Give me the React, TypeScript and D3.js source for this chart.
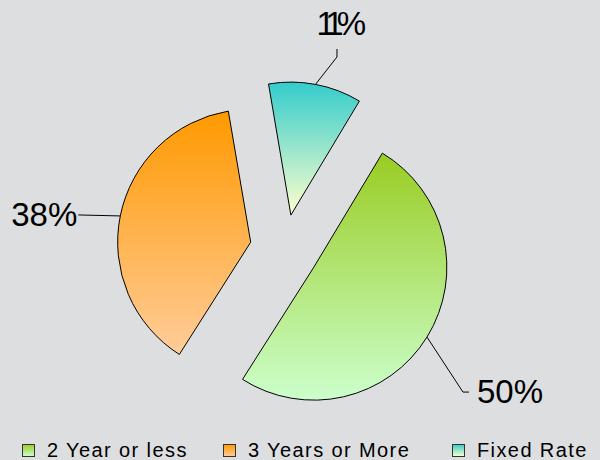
import React from 'react';
import * as d3 from 'd3';

// ---- data ----
const categories = ['2 Year or less', '3 Years or More', 'Fixed Rate'];
const values = [50.4, 38.3, 11.3];
const labelTexts = ['50%', '38%', '11%'];
const gradientTop = ['#99cc22', '#ff9900', '#33cccc'];
const gradientBottom = ['#ccffcc', '#ffcc99', '#ffffcc'];

// ---- layout ----
const W = 600;
const H = 460;
const CX = 284.5;
const CY = 249;
const R = 133;
const EXPLODE = 34.5;
const START_DEG = 31;
const BG = '#dddee0';
const FONT = '"Liberation Sans", Arial, Helvetica, sans-serif';

// leader polylines & label anchors relative to the arc mid point of each slice
const labelLayout = [
  { pts: [[36, 55], [42, 55]], text: [50, 66], anchor: 'start', ls: 0 },
  { pts: [[-42, -1]], text: [-43, 10], anchor: 'end', ls: 0 },
  { pts: [[21.5, -27.4], [21.5, -35.4]], text: [1, -49.4], anchor: 'start', ls: -7 },
];
const legendX = [22, 223, 452];

export default function App() {
  const a0 = (START_DEG * Math.PI) / 180;
  const pie = d3
    .pie<number>()
    .sort(null)
    .startAngle(a0)
    .endAngle(a0 + 2 * Math.PI);
  const arcs = pie(values);
  const arcGen = d3
    .arc<d3.PieArcDatum<number>>()
    .innerRadius(0)
    .outerRadius(R);
  const polar = (a: number, r: number): [number, number] => [
    r * Math.sin(a),
    -r * Math.cos(a),
  ];

  return (
    <svg
      width={W}
      height={H}
      style={{ position: 'absolute', left: 0, top: 0, display: 'block' }}
      xmlns="http://www.w3.org/2000/svg"
    >
      <defs>
        {categories.map((c, i) => (
          <linearGradient key={c} id={`g${i}`} x1="0" y1="0" x2="0" y2="1">
            <stop offset="0" stopColor={gradientTop[i]} />
            <stop offset="1" stopColor={gradientBottom[i]} />
          </linearGradient>
        ))}
      </defs>
      <rect x={0} y={0} width={W} height={H} fill={BG} />
      {arcs.map((a, i) => {
        const mid = (a.startAngle + a.endAngle) / 2;
        const [ox, oy] = polar(mid, EXPLODE);
        const ax = CX + ox;
        const ay = CY + oy;
        const [px0, py0] = polar(mid, R);
        const px = ax + px0;
        const py = ay + py0;
        const lay = labelLayout[i];
        const linePts: [number, number][] = [
          [px, py],
          ...lay.pts.map(([dx, dy]) => [px + dx, py + dy] as [number, number]),
        ];
        return (
          <g key={categories[i]}>
            <path
              d={arcGen(a) || ''}
              transform={`translate(${ax},${ay})`}
              fill={`url(#g${i})`}
              stroke="#000"
              strokeWidth={1}
              strokeLinejoin="round"
            />
            <path
              d={d3.line()(linePts) || ''}
              fill="none"
              stroke="#000"
              strokeWidth={1}
            />
            <text
              x={px + lay.text[0]}
              y={py + lay.text[1]}
              textAnchor={lay.anchor as any}
              fontFamily={FONT}
              fontSize={33}
              letterSpacing={lay.ls}
              fill="#000"
            >
              {labelTexts[i]}
            </text>
          </g>
        );
      })}
      {categories.map((c, i) => (
        <g key={`leg${i}`}>
          <rect
            x={legendX[i] + 0.5}
            y={444.5}
            width={12}
            height={12}
            fill={`url(#g${i})`}
            stroke="#333"
            strokeWidth={1}
          />
          <text
            x={legendX[i] + 25}
            y={457}
            fontFamily={FONT}
            fontSize={20}
            letterSpacing={1.4}
            fill="#000"
          >
            {c}
          </text>
        </g>
      ))}
    </svg>
  );
}
